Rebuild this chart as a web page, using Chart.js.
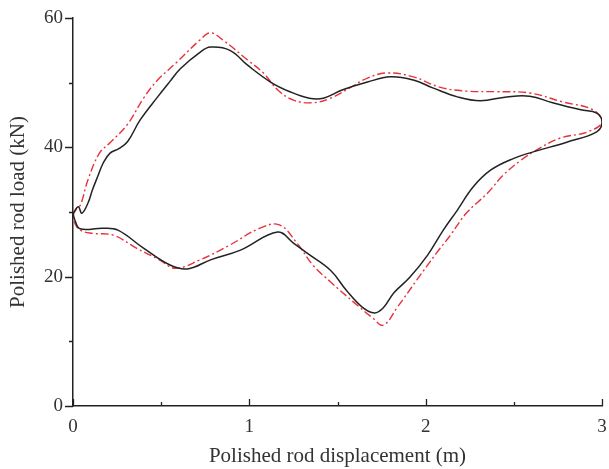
<!DOCTYPE html>
<html>
<head>
<meta charset="utf-8">
<script src="https://cdn.jsdelivr.net/npm/chart.js@4/dist/chart.umd.min.js"></script>
<style>
  html, body { margin: 0; padding: 0; background: #fff; }
  #wrap { width: 609px; height: 469px; }
</style>
</head>
<body>
<div id="wrap"><canvas id="card"></canvas></div>
<script>
// measured card (black, solid)
const measX = [0.0, 0.03, 0.05, 0.085, 0.11, 0.14, 0.17, 0.21, 0.26, 0.31, 0.38, 0.48, 0.55, 0.61, 0.72, 0.78, 0.89, 0.99, 1.12, 1.23, 1.34, 1.42, 1.53, 1.67, 1.80, 1.93, 2.04, 2.18, 2.31, 2.46, 2.59, 2.72, 2.88, 2.97, 3.0, 2.97, 2.80, 2.61, 2.50, 2.37, 2.27, 2.18, 2.10, 2.01, 1.91, 1.82, 1.76, 1.71, 1.64, 1.55, 1.46, 1.33, 1.25, 1.16, 0.95, 0.78, 0.65, 0.55, 0.40, 0.255, 0.17, 0.04, 0.01, 0.0];
const measY = [29.8, 30.8, 29.8, 31.4, 33.4, 35.5, 37.5, 39.1, 39.8, 40.9, 44.2, 47.8, 50.2, 52.2, 54.7, 55.5, 55.0, 52.7, 50.1, 48.6, 47.6, 47.6, 48.9, 50.1, 50.9, 50.4, 49.2, 47.8, 47.2, 47.8, 47.9, 46.9, 45.8, 45.3, 43.9, 42.4, 40.8, 39.3, 38.3, 36.5, 33.9, 30.3, 27.2, 23.3, 19.9, 17.5, 15.2, 14.4, 15.3, 17.9, 21.0, 23.6, 25.2, 26.9, 24.1, 22.6, 21.2, 21.8, 24.4, 27.2, 27.5, 27.4, 28.8, 29.8];

// simulated card (red, dash-dot)
const simX = [0.0, 0.02, 0.04, 0.057, 0.085, 0.15, 0.21, 0.31, 0.40, 0.48, 0.59, 0.72, 0.78, 0.85, 0.99, 1.08, 1.16, 1.25, 1.36, 1.46, 1.57, 1.67, 1.78, 1.93, 2.08, 2.23, 2.40, 2.59, 2.78, 2.95, 3.0, 2.92, 2.76, 2.63, 2.54, 2.44, 2.35, 2.23, 2.14, 2.06, 1.95, 1.84, 1.76, 1.70, 1.59, 1.46, 1.36, 1.27, 1.17, 1.06, 0.89, 0.72, 0.58, 0.49, 0.36, 0.23, 0.11, 0.04, 0.01, 0.0];
const simY = [29.5, 30.5, 31.0, 32.3, 35.0, 39.1, 40.7, 43.6, 47.6, 50.4, 53.2, 56.6, 57.7, 56.6, 53.5, 51.5, 48.9, 47.3, 46.9, 47.6, 49.2, 50.7, 51.5, 50.9, 49.3, 48.7, 48.6, 48.4, 47.0, 45.8, 43.9, 42.4, 41.4, 39.6, 38.0, 35.7, 32.9, 29.8, 26.4, 23.6, 19.5, 15.3, 12.5, 13.6, 16.1, 19.2, 21.8, 25.2, 28.0, 27.5, 24.9, 22.6, 21.3, 22.6, 24.4, 26.4, 26.7, 27.2, 28.3, 29.5];

const xMajor = [0, 1, 2, 3];
const xMinor = [0.5, 1.5, 2.5];
const yMajor = [0, 20, 40, 60];
const yMinor = [10, 30, 50];

const toPoints = (xs, ys) => xs.map((x, i) => ({ x: x, y: ys[i] }));

const axisColor = '#222';
const serif = "'Liberation Serif', 'DejaVu Serif', serif";

// tick marks: y ticks point out, x ticks point into the plot
const tickMarks = {
    id: 'tickMarks',
    afterDraw(chart) {
        const ctx = chart.ctx;
        const xs = chart.scales.x, ys = chart.scales.y;
        ctx.save();
        ctx.strokeStyle = axisColor;
        ctx.lineWidth = 1.3;
        ctx.beginPath();
        yMajor.forEach(v => {
            const p = Math.round(ys.getPixelForValue(v)) + 0.5;
            ctx.moveTo(xs.left, p); ctx.lineTo(xs.left - 8, p);
        });
        yMinor.forEach(v => {
            const p = Math.round(ys.getPixelForValue(v)) + 0.5;
            ctx.moveTo(xs.left, p); ctx.lineTo(xs.left - 4, p);
        });
        xMajor.forEach(v => {
            const p = Math.round(xs.getPixelForValue(v)) + 0.5;
            ctx.moveTo(p, ys.bottom); ctx.lineTo(p, ys.bottom - 7);
        });
        xMinor.forEach(v => {
            const p = Math.round(xs.getPixelForValue(v)) + 0.5;
            ctx.moveTo(p, ys.bottom); ctx.lineTo(p, ys.bottom - 4);
        });
        ctx.stroke();
        ctx.restore();
    }
};

new Chart(document.getElementById('card'), {
    type: 'scatter',
    data: {
        datasets: [{
            label: 'Measured',
            data: toPoints(measX, measY),
            showLine: true,
            borderColor: '#222',
            borderWidth: 1.5,
            pointRadius: 0,
            tension: 0.4
        }, {
            label: 'Simulated',
            data: toPoints(simX, simY),
            showLine: true,
            borderColor: '#e8313a',
            borderWidth: 1.4,
            borderDash: [8, 3, 2, 3],
            pointRadius: 0,
            tension: 0.4
        }]
    },
    options: {
        responsive: true,
        maintainAspectRatio: false,
        animation: false,
        layout: { padding: { top: 18, right: 7, left: 0, bottom: 0 } },
        plugins: {
            legend: { display: false },
            tooltip: { enabled: false }
        },
        scales: {
            x: {
                type: 'linear',
                min: 0,
                max: 3,
                grid: { display: false },
                border: { display: true, color: axisColor, width: 1.5 },
                ticks: {
                    stepSize: 1,
                    padding: 2,
                    color: '#333',
                    font: { family: serif, size: 19 }
                },
                title: {
                    display: true,
                    text: 'Polished rod displacement (m)',
                    color: '#333',
                    padding: { top: 6, bottom: 0 },
                    font: { family: serif, size: 21 }
                },
                afterFit: s => { s.height = 63; }
            },
            y: {
                type: 'linear',
                min: 0,
                max: 60,
                grid: { display: false },
                border: { display: true, color: axisColor, width: 1.5 },
                ticks: {
                    stepSize: 20,
                    padding: 2,
                    color: '#333',
                    font: { family: serif, size: 19 }
                },
                title: {
                    display: true,
                    text: 'Polished rod load (kN)',
                    color: '#333',
                    padding: { top: 6, bottom: 4 },
                    font: { family: serif, size: 21 }
                },
                afterFit: s => { s.width = 73; }
            }
        }
    },
    plugins: [tickMarks]
});
</script>
</body>
</html>
